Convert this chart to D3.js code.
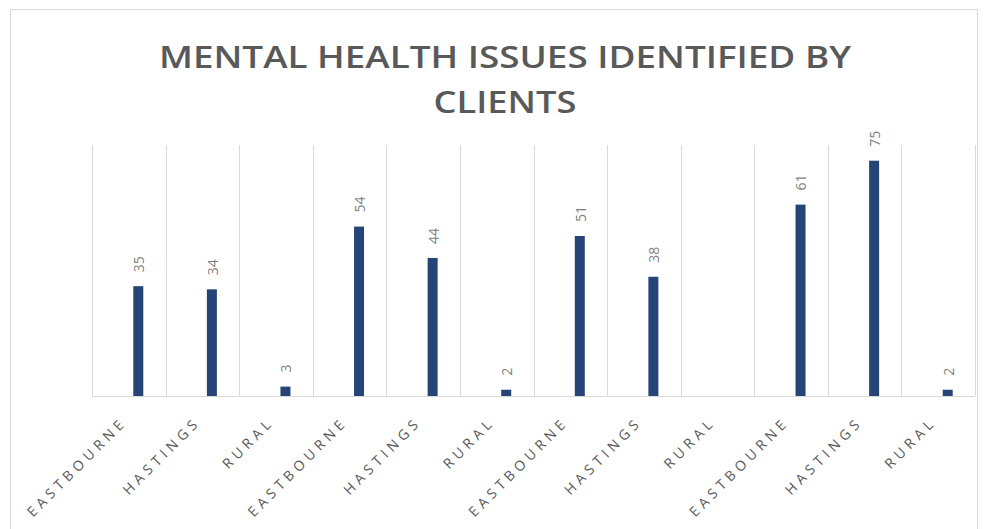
<!DOCTYPE html>
<html>
<head>
<meta charset="utf-8">
<script src="https://cdn.jsdelivr.net/npm/d3@7"></script>
<style>
  body { margin: 0; background: #fff; }
  svg { display: block; font-family: "Open Sans", sans-serif; }
</style>
</head>
<body>
<svg width="984" height="529"></svg>
<script>
// categories repeat per period
const categories = ['EASTBOURNE', 'HASTINGS', 'RURAL', 'EASTBOURNE', 'HASTINGS', 'RURAL',
  'EASTBOURNE', 'HASTINGS', 'RURAL', 'EASTBOURNE', 'HASTINGS', 'RURAL'];
const values = [35, 34, 3, 54, 44, 2, 51, 38, null, 61, 75, 2];
const titleLines = ['MENTAL HEALTH ISSUES IDENTIFIED BY', 'CLIENTS'];

const svg = d3.select('svg');
const margin = { top: 145, right: 9, bottom: 133, left: 92 };
const width = 984 - margin.left - margin.right;
const height = 529 - margin.top - margin.bottom;

// chart border
svg.append('rect')
  .attr('x', 10.5).attr('y', 9.5)
  .attr('width', 967).attr('height', 540)
  .attr('fill', 'none').attr('stroke', '#d9d9d9');

// title (squeezed to look like the narrow original font)
svg.append('g').selectAll('text')
  .data(titleLines)
  .enter().append('text')
  .attr('x', 505)
  .attr('y', (d, i) => 68 + i * 45)
  .attr('text-anchor', 'middle')
  .attr('fill', '#595959')
  .attr('font-size', 31)
  .attr('font-weight', 600)
  .attr('textLength', (d, i) => i === 0 ? 692 : 143)
  .attr('lengthAdjust', 'spacingAndGlyphs')
  .text(d => d);

const g = svg.append('g').attr('transform', `translate(${margin.left},${margin.top})`);

const x = d3.scaleBand()
  .domain(d3.range(categories.length))
  .range([0, width]);

const y = d3.scaleLinear()
  .domain([0, 80])
  .range([height, 0]);

// vertical category gridlines
g.append('g').selectAll('line')
  .data(d3.range(categories.length + 1))
  .enter().append('line')
  .attr('x1', d => Math.round(d * x.step()) + 0.5)
  .attr('x2', d => Math.round(d * x.step()) + 0.5)
  .attr('y1', 0)
  .attr('y2', height)
  .attr('stroke', '#d9d9d9');

// baseline
g.append('line')
  .attr('x1', 0).attr('x2', width)
  .attr('y1', y(0) + 0.5).attr('y2', y(0) + 0.5)
  .attr('stroke', '#d9d9d9');

const barW = 10;
const barX = i => x(i) + x.bandwidth() / 2 + 9.5 - barW / 2;
const shown = d3.range(values.length).filter(i => values[i] != null);

g.append('g').selectAll('rect')
  .data(shown)
  .enter().append('rect')
  .attr('x', i => barX(i))
  .attr('y', i => y(values[i]))
  .attr('width', barW)
  .attr('height', i => y(0) - y(values[i]))
  .attr('fill', '#264478');

// data labels, rotated
g.append('g').selectAll('text')
  .data(shown)
  .enter().append('text')
  .attr('transform', i => `translate(${barX(i) + barW / 2 + 1},${y(values[i]) - 14}) rotate(-90)`)
  .attr('dy', '0.35em')
  .attr('fill', '#7f7f7f')
  .attr('font-size', 14)
  .text(i => values[i]);

// x axis labels
const xAxis = d3.axisBottom(x).tickSize(0).tickFormat(i => categories[i]);
const ax = g.append('g')
  .attr('transform', `translate(0,${height})`)
  .call(xAxis);
ax.select('.domain').remove();
ax.selectAll('text')
  .attr('font-family', '"Open Sans", sans-serif')
  .attr('font-size', 14)
  .attr('fill', '#595959')
  .attr('letter-spacing', '4.5px')
  .attr('text-anchor', 'end')
  .attr('x', 0)
  .attr('y', 0)
  .attr('dy', 0)
  .attr('transform', 'translate(-1,27) rotate(-45)');
</script>
</body>
</html>
